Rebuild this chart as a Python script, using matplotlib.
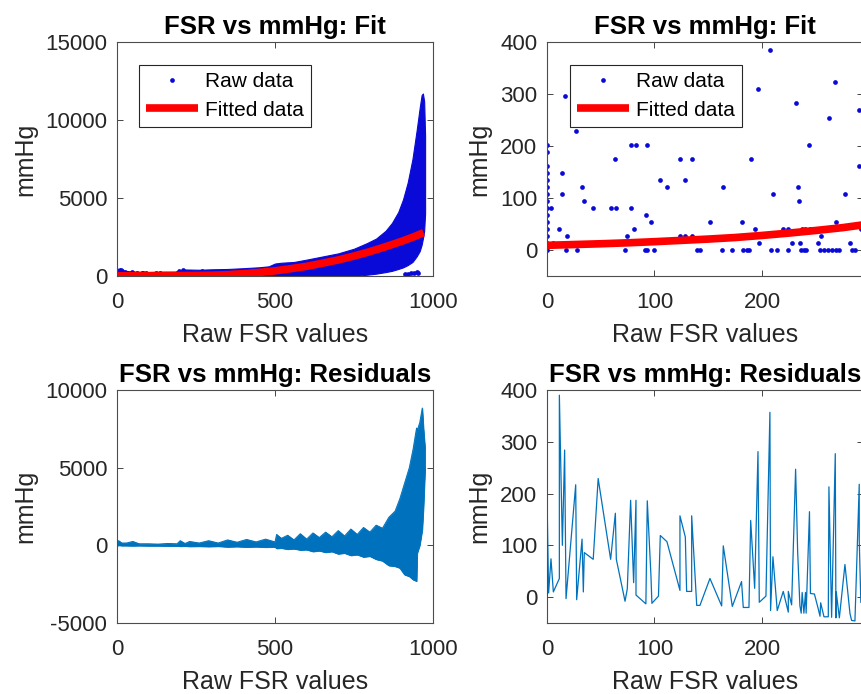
import matplotlib

matplotlib.use("Agg")
import matplotlib.pyplot as plt

plt.rcParams["font.family"] = ["Liberation Sans", "DejaVu Sans"]
plt.rcParams["axes.unicode_minus"] = False

# ---- values ----

# sparse raw samples in the low FSR range (raw FSR, mmHg)
raw_pts = [
    (0, 0), (0, 13.5), (0, 27), (0, 40.5), (0, 54), (0, 67.5), (0, 81), (0, 94.5),
    (0, 108), (0, 121.5), (0, 135), (0, 148.5), (0, 162), (0, 189), (0, 202.5),
    (3.7, 81), (5.3, 13.5), (11.5, 405), (11.5, 40.5), (13.6, 108), (14.3, 148.5),
    (16.4, 297), (17.7, 0), (18.9, 27), (26.7, 229.5), (27.6, 0), (32.6, 121.5),
    (33.8, 13.5), (34.7, 94.5), (43, 81), (47.6, 243), (59.2, 81), (63.6, 175.5),
    (64.5, 81), (72.6, 0), (74.7, 27), (77.8, 202.5), (77.8, 81), (80.6, 40.5),
    (82.8, 202.5), (90.9, 0), (92, 67.5), (93.3, 202.5), (93.3, 0), (96.7, 54),
    (99.2, 0), (105.4, 135), (111.6, 121.5), (123.7, 175.5), (123.7, 27), (128, 27),
    (128.7, 135), (134.6, 175.5), (134.6, 27), (139.3, 0), (142.3, 0), (151.6, 54),
    (162.5, 0), (164, 121.5), (172.4, 0), (181, 54), (182.6, 0), (185.8, 0),
    (187.9, 0), (189.5, 175.5), (193.2, 40.5), (196.3, 310.5), (197.5, 13.5),
    (207.4, 384), (208, 0), (210.2, 108), (214.2, 0), (219.8, 40.5), (224.5, 40.5),
    (224.5, 0), (227.6, 13.5), (231.3, 283.5), (233.2, 121.5), (234.1, 94.5),
    (235.3, 13.5), (236.5, 0), (237.4, 40.5), (239, 0), (240.5, 40.5), (241.1, 0),
    (244.2, 202.5), (245.1, 40.5), (248.8, 40.5), (252.4, 13.5), (254, 0),
    (254.6, 27), (257.7, 0), (261.7, 0), (262.3, 253), (264.8, 0), (268.2, 324),
    (268.8, 0), (269.1, 54), (272, 0), (277.2, 108), (281.9, 13.5), (283.4, 0),
    (286.5, 0), (290.5, 270), (290.5, 162), (292, 40.5),
]
# small separate group near the top of the FSR range
low_group = [(912, 120), (920, 150), (930, 170), (940, 200), (948, 230), (953, 200)]

# dense raw cloud over the full range: lower / upper extent
cloud_x = [0, 10, 20, 40, 60, 100, 150, 190, 210, 260, 300, 350, 400, 450, 480, 500,
           520, 560, 600, 650, 700, 750, 790, 820, 850, 870, 890, 905, 920, 935, 948,
           958, 964, 968, 972, 975]
cloud_hi = [450, 500, 350, 300, 280, 260, 280, 280, 420, 400, 430, 450, 500, 560, 620, 800,
            850, 900, 1050, 1250, 1450, 1750, 2100, 2400, 2900, 3400, 4100, 4900, 6000, 7500,
            9300, 10800, 11600, 11700, 11200, 9000]
cloud_lo = [0, 0, 0, 0, 0, 0, 0, 0, 0, 0, 0, 0, 0, 0, 0, 0,
            0, 0, 0, 0, 0, 0, 80, 150, 250, 330, 450, 550, 700, 900,
            1250, 1600, 2000, 2400, 2900, 4000]

# fitted curve
fit_x = [0, 25, 50, 75, 100, 125, 150, 175, 200, 225, 250, 275, 300, 350,
         400, 450, 500, 550, 600, 650, 700, 750, 800, 850, 900, 940, 970]
fit_y = [9, 10.5, 12, 13.8, 16, 18.5, 21, 24, 28, 32.5, 37.5, 43, 50, 85,
         150, 230, 330, 470, 620, 820, 1030, 1280, 1560, 1880, 2220, 2520, 2780]

# residual band over the full range
band_x = [0, 5, 15, 30, 50, 70, 100, 130, 160, 190, 200, 215, 230, 260, 290, 320, 350,
          380, 410, 440, 470, 500, 505, 520, 540, 560, 580, 600, 620, 640, 660, 680,
          700, 720, 740, 760, 780, 800, 820, 840, 860, 880, 895, 910, 925, 937, 945,
          948, 950, 958, 966, 970, 975]
band_hi = [250, 300, 150, 150, 250, 100, 100, 80, 120, 100, 300, 120, 250, 150, 300, 150,
           350, 200, 380, 220, 400, 220, 700, 450, 650, 350, 750, 400, 800, 500, 850, 550,
           950, 600, 1050, 700, 1150, 850, 1300, 1100, 1800, 2200, 3000, 4000, 5000, 6200,
           7200, 7550, 7400, 7900, 8840, 7500, 6200]
band_lo = [-30, 0, -20, -20, -30, -20, -30, -30, -40, -40, -60, -50, -70, -60, -80, -60,
           -100, -80, -110, -90, -120, -110, -200, -180, -250, -220, -300, -280, -400, -350,
           -450, -400, -550, -500, -650, -600, -750, -700, -900, -1000, -1300, -1350, -1460,
           -1890, -2000, -2210, -2280, -2300, -500, 0, 1000, 2500, 5000]

# residual trace in the low FSR range (in x order)
res_pts = [
    (0, 8), (0, 197), (1.5, 8), (3.7, 74), (5.9, 10), (11.5, 36), (11.5, 390),
    (14.3, 100), (16.4, 284), (17.7, -3), (26.7, 217), (27.6, -5), (32.6, 112),
    (33.8, 10), (34.7, 86), (43, 73), (47.6, 229), (59.2, 73), (63.6, 162), (64.5, 73),
    (72.6, -8), (74.7, 16), (77.8, 187), (80.6, 28), (82.8, 187), (82.8, 4), (92, -13),
    (93.3, 186), (96.7, 42), (97.6, -12), (103.7, 2), (105.4, 119), (111.6, 107),
    (123.7, 13), (123.7, 157), (128.7, 116), (129.9, 11), (134.6, 11), (134.6, 157),
    (139.3, -16), (142.3, -16), (151.6, 36), (162.5, -17), (164, 99), (172.4, -18),
    (181, 30), (182.6, -20), (187.9, -20), (189.5, 148), (193.2, 17), (196.3, 281),
    (197.5, -10), (203.7, 2), (207.4, 357), (208, -26), (210.2, 78), (214.2, -26),
    (219.8, 11), (224.5, -29), (224.5, 11), (227.6, -15), (231.3, 247), (233.2, 88),
    (235.3, -17), (236.5, -31), (237.4, 9), (239, -31), (240.5, 9), (241.1, -31),
    (244.2, 165), (245.1, 7), (248.8, 6), (252.4, -23), (254, -37), (254.6, -11),
    (257.7, -38), (261.7, -38), (262.3, 213), (264.8, -39), (268.2, 277), (268.8, -40),
    (269.1, 10), (272, -40), (277.2, 63), (281.9, -32), (283.4, -45), (286.5, -46),
    (290.5, 218), (290.5, 110), (292, -10),
]

BLUE = "#0a0ad8"
RED = "#ff0000"
RES = "#0072BD"
TXT = "#262626"

raw_x, raw_y = zip(*raw_pts)
low_x, low_y = zip(*low_group)
res_x, res_y = zip(*res_pts)


def style(ax, xlim, xticks, ylim, yticks):
    ax.set_xlim(*xlim)
    ax.set_ylim(*ylim)
    ax.set_xticks(xticks)
    ax.set_yticks(yticks)
    ax.tick_params(direction="in", length=4, width=0.6, top=True, right=True,
                   colors=TXT, labelsize=16, pad=7)
    ax.tick_params(axis="x", pad=11.5)
    for s in ax.spines.values():
        s.set_color("#4d4d4d")
        s.set_linewidth(0.8)
    ax.set_xlabel("Raw FSR values", fontsize=18, color=TXT, labelpad=7.5)
    ax.set_ylabel("mmHg", fontsize=18, color=TXT, labelpad=6)


def legend(ax, handles, x0):
    leg = ax.legend(handles=handles, loc="upper left", bbox_to_anchor=(x0, 0.902),
                    borderaxespad=0, fontsize=15, fancybox=False, framealpha=1,
                    edgecolor=TXT, handlelength=2.5, handletextpad=0.3,
                    labelspacing=0.45, borderpad=0.35, numpoints=1)
    leg.get_frame().set_linewidth(0.8)


fig = plt.figure(figsize=(8.62, 6.94), dpi=100)
W, H = 862, 694
pos_tl = [117 / W, 1 - 276 / H, 316 / W, 234 / H]
pos_tr = [547 / W, 1 - 276 / H, 316 / W, 234 / H]
pos_bl = [117 / W, 1 - 623 / H, 316 / W, 233 / H]
pos_br = [547 / W, 1 - 623 / H, 316 / W, 233 / H]

# top left: full range fit
ax = fig.add_axes(pos_tl)
ax.fill_between(cloud_x, cloud_lo, cloud_hi, color=BLUE, lw=0.8, zorder=2)
h_raw, = ax.plot(raw_x, raw_y, "o", ms=3.4, mec="none", color=BLUE, label="Raw data", zorder=2)
ax.plot(low_x, low_y, "o", ms=3.4, mec="none", color=BLUE, zorder=2)
h_fit, = ax.plot(fit_x, fit_y, color=RED, lw=5.5, solid_capstyle="butt", label="Fitted data", zorder=3)
style(ax, (0, 1000), [0, 500, 1000], (0, 15000), [0, 5000, 10000, 15000])
ax.set_title("FSR vs mmHg: Fit", fontsize=18.5, fontweight="bold", pad=6)
legend(ax, [h_raw, h_fit], 0.07)

# top right: low range fit
ax = fig.add_axes(pos_tr)
h_raw, = ax.plot(raw_x, raw_y, "o", ms=3.4, mec="none", color=BLUE, label="Raw data", zorder=2)
h_fit, = ax.plot(fit_x, fit_y, color=RED, lw=5.5, solid_capstyle="butt", label="Fitted data", zorder=3)
style(ax, (0, 294), [0, 100, 200], (-50, 400), [0, 100, 200, 300, 400])
ax.set_title("FSR vs mmHg: Fit", fontsize=18.5, fontweight="bold", pad=6)
legend(ax, [h_raw, h_fit], 0.073)

# bottom left: full range residuals
ax = fig.add_axes(pos_bl)
ax.fill_between(band_x, band_lo, band_hi, color=RES, lw=0.6, zorder=2)
ax.plot(band_x, band_hi, color=RES, lw=0.7, zorder=2)
ax.plot(band_x, band_lo, color=RES, lw=0.7, zorder=2)
style(ax, (0, 1000), [0, 500, 1000], (-5000, 10000), [-5000, 0, 5000, 10000])
ax.set_title("FSR vs mmHg: Residuals", fontsize=18.5, fontweight="bold", pad=6)

# bottom right: low range residuals
ax = fig.add_axes(pos_br)
ax.plot(res_x, res_y, color=RES, lw=0.9)
style(ax, (0, 294), [0, 100, 200], (-50, 400), [0, 100, 200, 300, 400])
ax.set_title("FSR vs mmHg: Residuals", fontsize=18.5, fontweight="bold", pad=6)

fig.savefig("out.png", dpi=100)
